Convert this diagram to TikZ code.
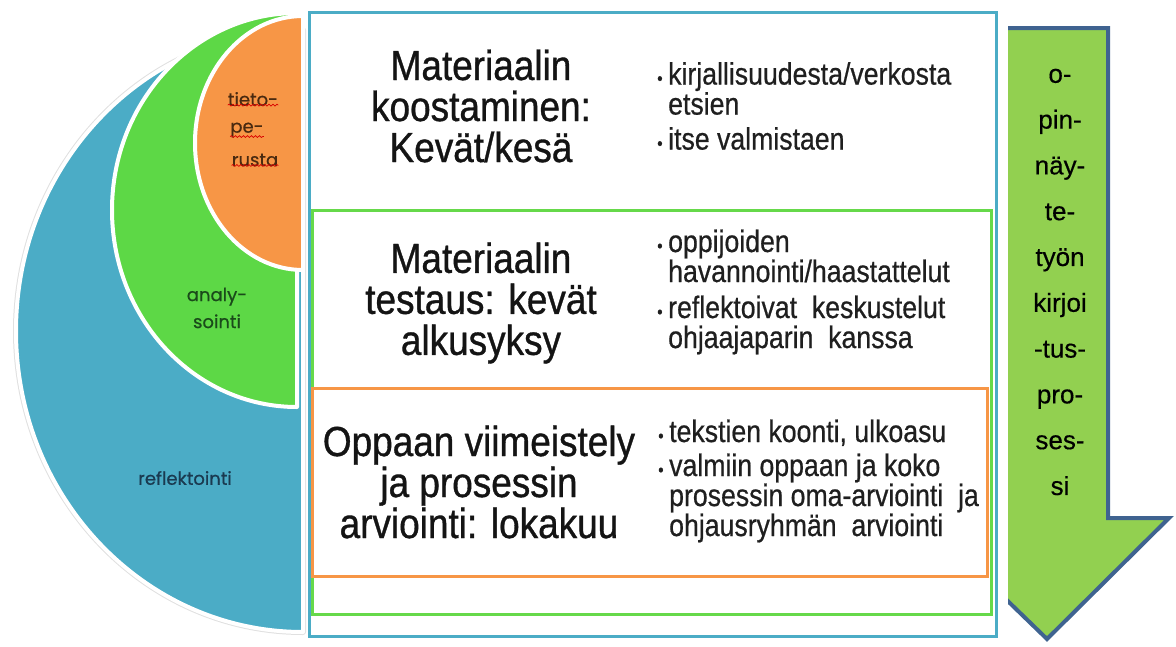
\documentclass[tikz,border=0pt]{standalone}
\usepackage{fontspec}
\setmainfont{Liberation Sans}
\newfontfamily\titlefont[FakeStretch=0.88,FakeBold=0.8]{Liberation Sans}
\newfontfamily\bulfont[FakeStretch=0.86,FakeBold=0.6]{Liberation Sans}
\newfontfamily\arrfont[FakeBold=0.4]{Liberation Sans}
\newfontfamily\roundfont[FakeBold=0.6]{Poppins}
\usetikzlibrary{decorations.pathmorphing}
\definecolor{blueC}{HTML}{4BACC6}
\definecolor{greenC}{HTML}{5DD846}
\definecolor{greenL}{HTML}{66D94A}
\definecolor{orangeC}{HTML}{F79646}
\definecolor{arrowG}{HTML}{92D050}
\definecolor{arrowB}{HTML}{3F6390}
\definecolor{txtO}{HTML}{4A2A10}
\definecolor{txtG}{HTML}{1A4A1A}
\definecolor{txtB}{HTML}{1A3A50}
\newcommand{\bul}{\makebox[11pt][l]{\fontsize{18}{18}\selectfont •}}
\newcommand{\ind}{\hspace*{11pt}}
\begin{document}
\begin{tikzpicture}[x=1pt,y=-1pt,
  titletext/.style={font=\titlefont\fontsize{42}{41}\selectfont, align=center, inner sep=0pt, text=black!92},
  bullettext/.style={font=\bulfont\fontsize{31}{30}\selectfont, align=left, anchor=west, inner sep=0pt, text=black!88},
  shapelabel/.style={font=\roundfont\fontsize{18}{18}\selectfont, inner sep=0pt},
  squiggle/.style={draw=red!85!black, line width=0.7pt, decorate, decoration={snake, amplitude=0.9pt, segment length=4pt}},
  halfshape/.style={draw=white, line width=4pt, line join=round},
  boxline/.style={line width=3pt}]
\useasboundingbox (0,0) rectangle (1176,646);

% arrow (partly hidden on the left)
\begin{scope}
\clip (1008,0) rectangle (1176,646);
\path[fill=arrowG, draw=arrowB, line width=4pt, line join=miter]
  (986,28) -- (1108,28) -- (1108,518) -- (1169,518) -- (1047,639) -- (922,518) -- (986,518) -- cycle;
\end{scope}
\node[font=\arrfont\fontsize{26}{45.8}\selectfont, align=center, inner sep=0pt] (arrowtext) at (1060,282)
  {o-\\pin-\\näy-\\te-\\työn\\kirjoi\\-tus-\\pro-\\ses-\\si};

% nested boxes
\draw[boxline, draw=blueC] (309,12) rectangle (996,636);
\draw[boxline, draw=greenL] (312,210) rectangle (991,614);
\draw[boxline, draw=orangeC] (312,388) rectangle (987,576);

% titles
\node[titletext] (t1) at (481,106) {Materiaalin\\koostaminen:\\Kevät/kesä};
\node[titletext] (t2) at (481,303) {Materiaalin\\testaus: kevät\\alkusyksy};
\node[titletext] (t3) at (479,482) {Oppaan viimeistely\\ja prosessin\\arviointi: lokakuu};

% bullets
\node[bullettext] (b1) at (657,106) {\bul kirjallisuudesta/verkosta\\\ind etsien\\[5pt]\bul itse valmistaen};
\node[bullettext] (b2) at (657,292) {\bul oppijoiden\\\ind havannointi/haastattelut\\[6pt]\bul reflektoivat\ \ keskustelut\\\ind ohjaajaparin\ \ kanssa};
\node[bullettext] (b3) at (658,481) {\bul tekstien koonti, ulkoasu\\[4pt]\bul valmiin\ oppaan\ ja\ koko\\\ind prosessin\ oma-arviointi\ \ ja\\\ind ohjausryhmän\ \ arviointi};

% left half shapes
\path[halfshape, draw=black!12, line width=6pt] (303,30) arc[start angle=90, end angle=270, x radius=287pt, y radius=301pt] -- cycle;
\path[halfshape, fill=blueC] (303,30) arc[start angle=90, end angle=270, x radius=287pt, y radius=301pt] -- cycle;
\path[halfshape, fill=greenC] (297,13) arc[start angle=90, end angle=270, x radius=185pt, y radius=197pt] -- cycle;
\path[halfshape, fill=orangeC] (303,16) arc[start angle=90, end angle=270, x radius=108pt, y radius=127pt] -- cycle;

\node[shapelabel, text=txtO] (l1) at (253,99) {tieto-};
\node[shapelabel, text=txtO] (l2) at (247,130) {pe-};
\node[shapelabel, text=txtO] (l3) at (255,160) {rusta};
\draw[squiggle] ([yshift=1pt]l1.south west) -- ([yshift=1pt]l1.south east);
\draw[squiggle] ([yshift=1pt]l2.south west) -- ([yshift=1pt]l2.south east);
\draw[squiggle] ([yshift=1pt]l3.south west) -- ([yshift=1pt]l3.south east);
\node[shapelabel, text=txtG, align=center, font=\roundfont\fontsize{18}{27}\selectfont] (l4) at (217,308) {analy-\\sointi};
\node[shapelabel, text=txtB] (l5) at (185,478) {reflektointi};
\end{tikzpicture}
\end{document}
